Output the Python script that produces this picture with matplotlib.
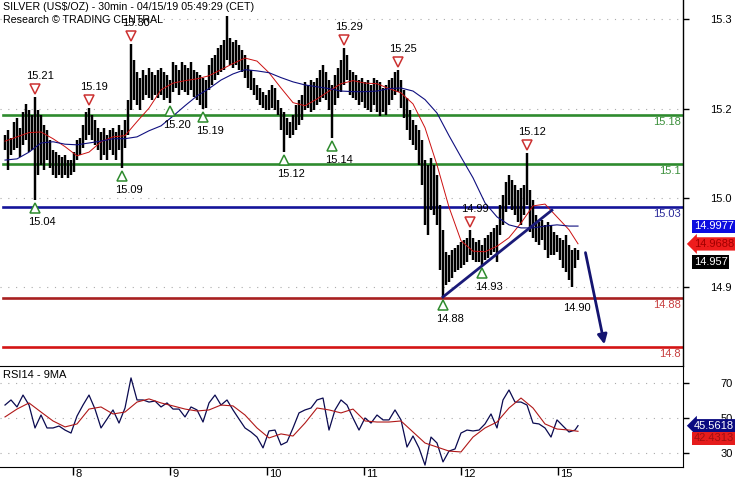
# gráfico de prata 30min com RSI, refeito em matplotlib
import numpy as np
import matplotlib
matplotlib.use('Agg')
import matplotlib.pyplot as plt
import matplotlib.transforms as mtransforms

plt.rcParams['font.family'] = ['Liberation Sans', 'DejaVu Sans']
plt.rcParams['font.size'] = 8

# máximas e mínimas das barras
highs = [15.147, 15.155, 15.142, 15.169, 15.175, 15.159, 15.185, 15.198, 15.188, 15.180,
         15.209, 15.188, 15.180, 15.164, 15.155, 15.139, 15.123, 15.119, 15.114, 15.111,
         15.114, 15.106, 15.106, 15.119, 15.139, 15.142, 15.164, 15.185, 15.191, 15.180,
         15.172, 15.159, 15.152, 15.159, 15.147, 15.155, 15.159, 15.152, 15.164, 15.155,
         15.172, 15.205, 15.296, 15.270, 15.250, 15.241, 15.254, 15.246, 15.257, 15.250,
         15.246, 15.254, 15.257, 15.250, 15.246, 15.237, 15.267, 15.262, 15.254, 15.267,
         15.262, 15.257, 15.267, 15.254, 15.250, 15.246, 15.241, 15.237, 15.262, 15.273,
         15.278, 15.290, 15.295, 15.303, 15.341, 15.306, 15.300, 15.303, 15.295, 15.286,
         15.278, 15.262, 15.254, 15.241, 15.229, 15.224, 15.218, 15.213, 15.221, 15.229,
         15.224, 15.205, 15.191, 15.185, 15.175, 15.169, 15.180, 15.196, 15.205, 15.213,
         15.234, 15.229, 15.237, 15.234, 15.241, 15.254, 15.262, 15.250, 15.237, 15.229,
         15.246, 15.257, 15.270, 15.290, 15.278, 15.254, 15.250, 15.246, 15.237, 15.241,
         15.234, 15.237, 15.229, 15.241, 15.237, 15.234, 15.224, 15.229, 15.237, 15.241,
         15.250, 15.254, 15.237, 15.221, 15.208, 15.188, 15.172, 15.164, 15.155, 15.139,
         15.106, 15.098, 15.110, 15.098, 15.082, 15.033, 14.992, 14.956, 14.951, 14.959,
         14.962, 14.967, 14.972, 14.975, 14.979, 14.992, 14.979, 14.972, 14.975, 14.967,
         14.979, 14.983, 14.988, 14.995, 15.000, 15.033, 15.049, 15.070, 15.082, 15.074,
         15.065, 15.057, 15.060, 15.065, 15.118, 15.057, 15.041, 15.016, 15.005, 15.008,
         15.000, 15.005, 15.000, 14.988, 14.983, 14.979, 14.975, 14.983, 14.967, 14.959,
         14.962, 14.959]
lows = [15.123, 15.090, 15.114, 15.123, 15.126, 15.111, 15.131, 15.139, 15.119, 15.123,
        15.041, 15.082, 15.098, 15.090, 15.106, 15.093, 15.082, 15.077, 15.082, 15.077,
        15.082, 15.077, 15.082, 15.087, 15.106, 15.114, 15.126, 15.139, 15.147, 15.139,
        15.131, 15.123, 15.106, 15.114, 15.106, 15.123, 15.114, 15.106, 15.123, 15.093,
        15.126, 15.147, 15.188, 15.205, 15.196, 15.188, 15.205, 15.213, 15.208, 15.205,
        15.213, 15.208, 15.213, 15.205, 15.208, 15.200, 15.218, 15.224, 15.213, 15.221,
        15.218, 15.213, 15.221, 15.209, 15.205, 15.196, 15.190, 15.191, 15.221, 15.229,
        15.237, 15.246, 15.250, 15.254, 15.270, 15.262, 15.257, 15.262, 15.254, 15.250,
        15.241, 15.224, 15.221, 15.213, 15.205, 15.196, 15.191, 15.188, 15.188, 15.191,
        15.188, 15.180, 15.155, 15.119, 15.147, 15.142, 15.147, 15.155, 15.164, 15.172,
        15.188, 15.191, 15.185, 15.188, 15.196, 15.201, 15.208, 15.205, 15.188, 15.142,
        15.196, 15.208, 15.218, 15.229, 15.237, 15.213, 15.208, 15.205, 15.196, 15.201,
        15.191, 15.188, 15.185, 15.196, 15.185, 15.178, 15.185, 15.180, 15.196, 15.205,
        15.213, 15.218, 15.191, 15.175, 15.155, 15.139, 15.131, 15.123, 15.098, 15.065,
        15.000, 14.983, 15.024, 15.016, 15.000, 14.926, 14.882, 14.902, 14.906, 14.913,
        14.923, 14.926, 14.929, 14.934, 14.939, 14.951, 14.942, 14.939, 14.939, 14.934,
        14.942, 14.946, 14.951, 14.956, 14.939, 14.983, 15.000, 15.021, 15.033, 15.024,
        15.016, 15.005, 15.000, 15.016, 15.033, 14.988, 14.979, 14.972, 14.967, 14.975,
        14.959, 14.946, 14.951, 14.951, 14.956, 14.942, 14.929, 14.923, 14.910, 14.898,
        14.929, 14.942]

# médias móveis (vermelha rápida, azul lenta) a cada 4 barras + última
ma_idx = list(range(0, 192, 4)) + [191]
ma_red = [15.137, 15.144, 15.151, 15.152, 15.141, 15.128, 15.113, 15.119, 15.136, 15.144,
          15.146, 15.169, 15.191, 15.221, 15.232, 15.236, 15.239, 15.244, 15.254, 15.264,
          15.273, 15.268, 15.249, 15.224, 15.200, 15.195, 15.206, 15.219, 15.231, 15.236,
          15.232, 15.231, 15.223, 15.216, 15.198, 15.159, 15.098, 15.029, 14.974, 14.957,
          14.956, 14.965, 14.979, 15.003, 15.031, 15.034, 15.013, 14.992, 14.969]
ma_blue = [15.106, 15.108, 15.119, 15.134, 15.136, 15.132, 15.131, 15.134, 15.137, 15.141,
           15.141, 15.144, 15.154, 15.162, 15.178, 15.195, 15.211, 15.223, 15.237, 15.247,
           15.254, 15.252, 15.249, 15.241, 15.234, 15.229, 15.226, 15.223, 15.219, 15.218,
           15.218, 15.219, 15.223, 15.224, 15.219, 15.205, 15.183, 15.146, 15.111, 15.077,
           15.036, 15.013, 15.000, 14.995, 14.995, 14.998, 15.000, 14.998, 14.998]

# RSI14 a cada 2 barras + última, e a média de 9
rsi_idx = list(range(0, 192, 2)) + [191]
rsi = [57.4, 60.3, 56.3, 63.1, 57.4, 44.3, 51.7, 44.3, 44.3, 45.4, 43.1, 41.4, 51.1, 57.4,
       63.1, 55.1, 44.3, 49.4, 54.6, 47.1, 55.7, 72.9, 60.3, 60.3, 59.1, 59.7, 56.3, 58.6,
       55.1, 55.1, 50.6, 56.3, 54.6, 47.7, 58.6, 63.1, 57.4, 60.3, 54.6, 49.4, 44.3, 42.0,
       39.1, 32.9, 42.6, 43.1, 34.6, 36.3, 44.3, 52.9, 54.6, 55.7, 60.3, 61.4, 43.1, 54.6,
       60.3, 57.4, 50.0, 43.1, 50.0, 47.1, 51.7, 48.9, 48.9, 54.6, 48.9, 33.4, 39.7, 32.9,
       23.1, 39.1, 35.7, 24.9, 31.1, 32.3, 41.4, 43.1, 42.6, 43.1, 46.6, 52.3, 44.3, 60.3,
       66.0, 59.1, 59.1, 57.4, 47.1, 46.6, 44.3, 39.1, 48.9, 45.4, 42.0, 43.1, 45.6]
rsi_ma = [50.6, 55.1, 58.6, 53.4, 48.3, 44.9, 46.6, 55.1, 56.3, 52.3, 53.4, 59.1, 60.9,
          58.6, 56.9, 55.1, 54.0, 54.6, 57.4, 56.9, 51.7, 44.3, 38.6, 40.9, 39.7, 47.1,
          55.7, 54.6, 52.9, 55.1, 48.3, 47.7, 47.7, 48.3, 42.0, 35.7, 33.4, 31.1, 30.6,
          39.1, 44.3, 47.7, 55.7, 61.4, 55.7, 46.6, 43.7, 43.1, 42.4]

# níveis horizontais
levels = [15.18, 15.1, 15.03, 14.88, 14.8]
level_labels = ['15.18', '15.1', '15.03', '14.88', '14.8']
level_colors = ['#2e8b2e', '#2e8b2e', '#14149a', '#a82020', '#d41414']
level_text_colors = ['#3c903c', '#3c903c', '#2a2a9a', '#c84040', '#c84040']

price_ticks = [14.898, 15.044, 15.19, 15.337]
price_tick_labels = ['14.9', '15.0', '15.2', '15.3']
rsi_ticks = [30, 50, 70]

day_starts = [22.7, 55.0, 87.3, 119.7, 152.0, 184.3]
day_labels = ['8', '9', '10', '11', '12', '15']

# marcas de topo e fundo (barra, texto)
top_marks = [(10, '15.21'), (28, '15.19'), (42, '15.30'), (113, '15.29'),
             (131, '15.25'), (155, '14.99'), (174, '15.12')]
bottom_marks = [(10, '15.04'), (39, '15.09'), (55, '15.20'), (66, '15.19'),
                (93, '15.12'), (109, '15.14'), (146, '14.88'), (159, '14.93')]
note_bar, note_text = 189, '14.90'

trend_x = [146, 182.3]
trend_y = [14.882, 15.024]
forecast_x = [193.3, 200.0]
forecast_y = [14.959, 14.800]

last_close = 14.957
ma_red_last = 14.9688
ma_blue_last = 14.9977
rsi_last = 45.5618
rsi_ma_last = 42.4313

W, H = 735, 480
fig = plt.figure(figsize=(W / 100, H / 100), dpi=100)
ax = fig.add_axes([0, 1 - 366 / H, 683 / W, 366 / H])
ax2 = fig.add_axes([0, 1 - 467 / H, 683 / W, 101 / H], sharex=ax)

x = np.arange(len(highs))

# barras
ax.vlines(x, lows, highs, color='black', linewidth=1.75, zorder=3)
ax.plot(ma_idx, ma_red, color='#cc1010', linewidth=0.7, zorder=4)
ax.plot(ma_idx, ma_blue, color='#101080', linewidth=0.8, zorder=4)

for lv, c in zip(levels, level_colors):
    ax.axhline(lv, xmin=0.004, color=c, linewidth=1.9, zorder=2)

bl = mtransforms.blended_transform_factory(ax.transAxes, ax.transData)
for lv, lab, c in zip(levels, level_labels, level_text_colors):
    t = mtransforms.offset_copy(bl, fig=fig, x=-2, y=-2, units='dots')
    ax.text(1.0, lv, lab, transform=t, ha='right', va='top', color=c, fontsize=8)

# linha de tendência e seta de previsão
ax.plot(trend_x, trend_y, color='#1a1a78', linewidth=2.0, zorder=5)
ax.annotate('', xy=(forecast_x[1], forecast_y[1]), xytext=(forecast_x[0], forecast_y[0]),
            arrowprops=dict(arrowstyle='-|>', color='#141470', lw=2.0, mutation_scale=14),
            zorder=5)

# triângulos e rótulos
for i, lab in top_marks:
    tm = mtransforms.offset_copy(ax.transData, fig=fig, y=8, units='dots')
    ax.plot(i, highs[i], marker='v', ms=7.5, mfc='white', mec='#cc3030', mew=1.1,
            transform=tm, zorder=6)
    tt = mtransforms.offset_copy(ax.transData, fig=fig, x=5, y=21, units='dots')
    ax.text(i, highs[i], lab, transform=tt, ha='center', va='center', fontsize=8, zorder=6)
for i, lab in bottom_marks:
    tm = mtransforms.offset_copy(ax.transData, fig=fig, y=-8, units='dots')
    ax.plot(i, lows[i], marker='^', ms=7.5, mfc='white', mec='#2e8b2e', mew=1.1,
            transform=tm, zorder=6)
    tt = mtransforms.offset_copy(ax.transData, fig=fig, x=7, y=-22, units='dots')
    ax.text(i, lows[i], lab, transform=tt, ha='center', va='center', fontsize=8, zorder=6)
tt = mtransforms.offset_copy(ax.transData, fig=fig, x=5, y=-21, units='dots')
ax.text(note_bar, lows[note_bar], note_text, transform=tt, ha='center', va='center', fontsize=8)

ax.set_xlim(-1.67, 226)
ax.set_ylim(14.769, 15.368)
ax.yaxis.tick_right()
ax.set_yticks(price_ticks, price_tick_labels)
ax.tick_params(axis='y', direction='out', length=4, width=1, pad=15.5, labelsize=8)
ax.tick_params(axis='x', bottom=False, labelbottom=False)
ax.grid(axis='y', linestyle=(0, (1, 6)), color='#aaaaaa', linewidth=0.8)
for s in ['left', 'top', 'bottom']:
    ax.spines[s].set_visible(False)
ax.spines['right'].set_linewidth(1.0)

# etiquetas de preço no eixo
tag = mtransforms.blended_transform_factory(ax.transAxes, ax.transData)
ax.text(694 / 683, ma_blue_last, '14.9977', transform=tag, ha='left', va='center',
        color='white', fontsize=8, clip_on=False,
        bbox=dict(boxstyle='square,pad=0.15', fc='#0c0ce0', ec='none'))
ax.text(694 / 683, ma_red_last, '14.9688', transform=tag, ha='left', va='center',
        color='#a00000', fontsize=8, clip_on=False,
        bbox=dict(boxstyle='larrow,pad=0.15', fc='#ee1c1c', ec='none'))
t = mtransforms.offset_copy(tag, fig=fig, y=-11, units='dots')
ax.text(694 / 683, last_close, '14.957', transform=t, ha='left', va='center',
        color='white', fontsize=8, clip_on=False,
        bbox=dict(boxstyle='square,pad=0.15', fc='black', ec='none'))

fig.text(3 / W, 1 - 7 / H, 'SILVER (US$/OZ) - 30min - 04/15/19 05:49:29 (CET)',
         ha='left', va='center', fontsize=7.7)
fig.text(3 / W, 1 - 20 / H, 'Research \u00a9 TRADING CENTRAL', ha='left', va='center',
         fontsize=7.7)

# painel RSI
ax2.plot(rsi_idx, rsi, color='#0a0a50', linewidth=0.9)
ax2.plot(ma_idx, rsi_ma, color='#b01818', linewidth=0.8)
ax2.set_ylim(22, 79.7)
ax2.yaxis.tick_right()
ax2.set_yticks(rsi_ticks, [str(v) for v in rsi_ticks])
ax2.tick_params(axis='y', direction='out', length=4, width=1, pad=23, labelsize=8)
ax2.grid(axis='y', linestyle=(0, (1, 6)), color='#aaaaaa', linewidth=0.8)
ax2.spines['left'].set_visible(False)
ax2.set_xticks(day_starts, [''] * len(day_starts))
ax2.tick_params(axis='x', direction='out', length=6, width=1)
fig.text(3 / W, 1 - 375 / H, 'RSI14 - 9MA', ha='left', va='center', fontsize=8)

bx = mtransforms.blended_transform_factory(ax2.transData, ax2.transAxes)
for d, lab in zip(day_starts, day_labels):
    t = mtransforms.offset_copy(bx, fig=fig, x=2, y=-2, units='dots')
    ax2.text(d, 0, lab, transform=t, ha='left', va='top', fontsize=8, clip_on=False)

tag2 = mtransforms.blended_transform_factory(ax2.transAxes, ax2.transData)
ax2.text(694 / 683, rsi_last, '45.5618', transform=tag2, ha='left', va='center',
         color='white', fontsize=8, clip_on=False,
         bbox=dict(boxstyle='larrow,pad=0.15', fc='#0a0a80', ec='none'))
t = mtransforms.offset_copy(tag2, fig=fig, y=-7, units='dots')
ax2.text(694 / 683, rsi_ma_last, '42.4313', transform=t, ha='left', va='center',
         color='#a01010', fontsize=8, clip_on=False,
         bbox=dict(boxstyle='square,pad=0.15', fc='#e51c1c', ec='none'))

fig.savefig('out.png', dpi=100)
